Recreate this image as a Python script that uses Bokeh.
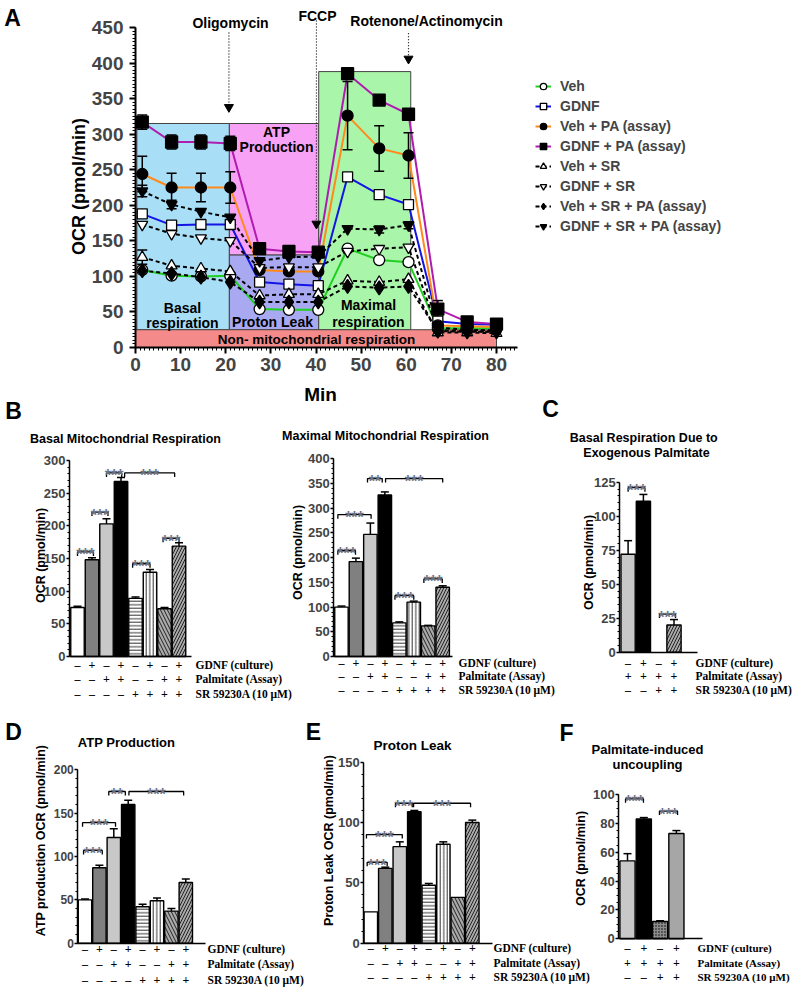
import math
from bokeh.plotting import figure
from bokeh.models import Range1d, LinearAxis, SingleIntervalTicker, FixedTicker, Legend, LegendItem
from bokeh.core.properties import value
from bokeh.embed import file_html
from bokeh.resources import INLINE

# ---------------- Panel A data (OCR time course) ----------------
times = [1.5, 8, 14.5, 21, 27.5, 34, 40.5, 47, 54, 60.5, 67, 73.5, 80]
veh        = [109, 101, 100, 101, 54, 53, 53, 139, 123, 120, 27, 27, 27]
gdnf       = [188, 172, 173, 173, 92, 89, 87, 240, 215, 201, 37, 33, 32]
veh_pa     = [244, 225, 225, 225, 109, 107, 107, 326, 280, 270, 31, 30, 29]
gdnf_pa    = [317, 289, 289, 287, 139, 135, 134, 385, 348, 328, 54, 36, 33]
veh_sr     = [127, 115, 111, 107, 73, 75, 75, 94, 92, 96, 21, 21, 20]
gdnf_sr    = [173, 160, 154, 150, 112, 113, 113, 135, 139, 141, 24, 23, 23]
veh_sr_pa  = [108, 104, 99, 92, 64, 64, 64, 86, 84, 86, 23, 22, 22]
gdnf_sr_pa = [220, 201, 191, 183, 122, 127, 128, 167, 166, 172, 28, 25, 24]

err_veh        = [4, 3, 3, 3, 0, 0, 0, 0, 0, 0, 0, 0, 0]
err_gdnf       = [0, 0, 0, 0, 0, 0, 0, 0, 0, 0, 0, 0, 0]
err_veh_pa     = [25, 20, 20, 22, 0, 0, 0, 48, 32, 32, 0, 0, 0]
err_gdnf_pa    = [10, 10, 10, 10, 0, 0, 0, 0, 0, 0, 12, 0, 0]
err_veh_sr     = [10, 0, 0, 0, 0, 0, 0, 0, 0, 0, 0, 0, 0]
err_gdnf_sr    = [0, 0, 0, 0, 0, 0, 0, 0, 0, 0, 0, 0, 0]
err_veh_sr_pa  = [0, 0, 0, 0, 0, 0, 0, 0, 0, 0, 0, 0, 0]
err_gdnf_sr_pa = [8, 6, 0, 0, 0, 0, 0, 0, 5, 5, 0, 0, 0]

series_labels = ["Veh", "GDNF", "Veh + PA (assay)", "GDNF + PA (assay)",
                 "Veh + SR", "GDNF + SR", "Veh + SR + PA (assay)", "GDNF + SR + PA (assay)"]

# respiration phases (shaded regions in panel A)
phase_start = [0.3, 20.8, 20.8, 40.6, 0.0]
phase_end   = [20.8, 40.6, 40.6, 61.0, 80.0]
phase_low   = [25, 130, 25, 25, 0]
phase_high  = [315, 315, 130, 388, 25]

# injections
inj_labels = ["Oligomycin", "FCCP", "Rotenone/Actinomycin"]
inj_time   = [20.7, 40.1, 60.5]
inj_top    = [443, 460, 442]
inj_tip    = [332, 168, 400]

# ---------------- Bar panel data ----------------
B1_vals = [75, 148, 203, 268, 89, 129, 73, 169]
B1_err  = [2, 3, 8, 6, 2, 4, 2, 5]
B2_vals = [100, 192, 247, 327, 68, 110, 62, 140]
B2_err  = [2, 7, 23, 6, 2, 2, 1, 3]
C_pos   = [1, 2, 4]
C_vals  = [72, 111, 20]
C_err   = [10, 5, 4]
D_vals  = [50, 87, 122, 160, 42, 49, 37, 70]
D_err   = [1, 3, 10, 5, 3, 3, 3, 4]
E_vals  = [26, 62, 80, 109, 48, 82, 38, 100]
E_err   = [0, 1, 4, 1, 1.5, 2, 0, 2]
F_vals  = [54, 83, 12, 73]
F_err   = [5, 1, 0.5, 2]

pos8 = [1, 2, 3, 4, 5, 6, 7, 8]
pos4 = [1, 2, 3, 4]
gdnf_row8 = ["–", "+", "–", "+", "–", "+", "–", "+"]
pa_row8   = ["–", "–", "+", "+", "–", "–", "+", "+"]
sr_row8   = ["–", "–", "–", "–", "+", "+", "+", "+"]
gdnf_row4 = ["–", "+", "–", "+"]
pa_row4   = ["+", "+", "+", "+"]
sr_row4   = ["–", "–", "+", "+"]
row_names = ["GDNF (culture)", "Palmitate (Assay)", "SR 59230A (10 μM)"]

# significance brackets: (left, right, level, label)
B1_sig = [(1.0, 2.1, 160, "***"), (2.0, 3.1, 221, "***"), (3.0, 4.05, 281, "***"),
          (4.25, 7.7, 281, "***"), (4.8, 6.0, 142, "***"), (6.9, 8.0, 181, "***")]
B2_sig = [(0.75, 1.97, 214, "***"), (0.75, 3.05, 287, "***"), (2.8, 3.82, 360, "**"),
          (4.05, 8.0, 360, "***"), (4.7, 6.0, 123, "***"), (6.7, 7.97, 157, "***")]
C_sig  = [(1.0, 2.1, 121, "***"), (3.05, 4.1, 28, "***")]
D_sig  = [(0.9, 2.2, 107, "***"), (0.83, 3.12, 139, "***"), (2.65, 3.8, 175, "**"),
          (4.05, 7.85, 175, "***")]
E_sig  = [(0.75, 2.13, 67, "***"), (0.7, 3.17, 90, "***"), (2.7, 3.86, 116, "***"),
          (3.95, 7.88, 116, "***")]
F_sig  = [(0.88, 1.98, 97, "***"), (2.96, 4.07, 88.5, "***")]

# ---------------- canvas ----------------
W, H = 800, 989
SANS = "Liberation Sans"
SERIF = "Liberation Serif"

p = figure(width=W, height=H, output_backend="svg", toolbar_location=None,
           x_axis_location=None, y_axis_location=None,
           x_range=Range1d(0, W), y_range=Range1d(H, 0),
           min_border=0, outline_line_color=None)
p.grid.visible = False
p.background_fill_color = "white"
p.border_fill_color = "white"


def add_ranges(nm, px0, sx, py0, sy):
    p.extra_x_ranges[nm] = Range1d((0 - px0) / sx, (W - px0) / sx)
    p.extra_y_ranges[nm] = Range1d((py0 - H) / sy, (py0 - 0) / sy)


def txt(x, y, s, size, xr="default", yr="default", align="center", baseline="middle",
        font=SANS, style="bold", color="black", angle=0.0, y_offset=0):
    xs = x if isinstance(x, list) else [x]
    ys = y if isinstance(y, list) else [y] * len(xs)
    ss = s if isinstance(s, list) else [s] * len(xs)
    p.text(x=xs, y=ys, text=ss, x_range_name=xr, y_range_name=yr,
           text_font=value(font), text_font_style=style, text_font_size=size,
           text_align=align, text_baseline=baseline, text_color=color,
           angle=angle, y_offset=y_offset)


def style_axis(ax, size, tick_out, standoff, lw):
    ax.axis_line_width = lw
    ax.major_tick_line_width = lw
    ax.minor_tick_line_width = 1
    ax.major_tick_in = 0
    ax.major_tick_out = tick_out
    ax.minor_tick_in = 0
    ax.minor_tick_out = max(2, tick_out // 2)
    ax.major_label_text_font = SANS
    ax.major_label_text_font_style = "bold"
    ax.major_label_text_font_size = size
    ax.major_label_standoff = standoff


# ================= Panel A =================
add_ranges("A", 135, 4.5125, 347, 320 / 450)
phase_colors = ["#a8def6", "#f7a2f5", "#a9a9f2", "#a9f5a9", "#f58a8a"]
p.quad(left=phase_start, right=phase_end, bottom=phase_low, top=phase_high,
       fill_color=phase_colors, line_color="#444444", line_width=1,
       x_range_name="A", y_range_name="A")

series_vals = [veh, gdnf, veh_pa, gdnf_pa, veh_sr, gdnf_sr, veh_sr_pa, gdnf_sr_pa]
series_err = [err_veh, err_gdnf, err_veh_pa, err_gdnf_pa, err_veh_sr, err_gdnf_sr,
              err_veh_sr_pa, err_gdnf_sr_pa]
line_colors = ["#1fd01f", "#1414e6", "#ff8a1c", "#b01cb0", "black", "black", "black", "black"]
line_dash = ["solid", "solid", "solid", "solid", "4 3", "4 3", "4 3", "4 3"]
markers = ["circle", "square", "circle", "square", "triangle", "inverted_triangle",
           "diamond", "inverted_triangle"]
fills = ["white", "white", "black", "black", "white", "white", "black", "black"]
msize = [11, 10, 11, 12, 11, 11, 14, 11]

line_r = []
for vals, c, d in zip(series_vals, line_colors, line_dash):
    line_r.append(p.line(times, vals, line_color=c, line_width=2, line_dash=d,
                         x_range_name="A", y_range_name="A"))
for vals, errs in zip(series_vals, series_err):
    ex = [t for t, e in zip(times, errs) if e > 0]
    lo = [v - e for v, e in zip(vals, errs) if e > 0]
    hi = [v + e for v, e in zip(vals, errs) if e > 0]
    if ex:
        p.segment(ex, lo, ex, hi, line_color="black", line_width=1.5,
                  x_range_name="A", y_range_name="A")
        p.scatter(ex + ex, lo + hi, marker="dash", size=10, line_color="black",
                  line_width=1.5, x_range_name="A", y_range_name="A")
mark_r = []
for vals, m, f, s in zip(series_vals, markers, fills, msize):
    mark_r.append(p.scatter(times, vals, marker=m, size=s, fill_color=f,
                            line_color="black", line_width=1.3,
                            x_range_name="A", y_range_name="A"))

# injection arrows
p.segment(inj_time, inj_top, inj_time, inj_tip, line_color="black", line_width=1.2,
          line_dash="1 2", x_range_name="A", y_range_name="A")
p.scatter(inj_time, [v + 6 for v in inj_tip], marker="inverted_triangle", size=9,
          fill_color="black", line_color="black", x_range_name="A", y_range_name="A")
txt([230, 317, 426], [22, 15, 20], inj_labels, "14px")

ya = LinearAxis(x_range_name="A", y_range_name="A", fixed_location=0, bounds=(0, 450),
                ticker=SingleIntervalTicker(interval=50, num_minor_ticks=10))
style_axis(ya, "19px", 6, 6, 2)
p.add_layout(ya, "left")
xa = LinearAxis(x_range_name="A", y_range_name="A", fixed_location=0, bounds=(0, 84.6),
                ticker=SingleIntervalTicker(interval=10, num_minor_ticks=10))
style_axis(xa, "19px", 6, 4, 2)
p.add_layout(xa, "below")

txt(320, 394, "Min", "19px")
txt(78, 186, "OCR (pmol/min)", "18px", angle=math.pi / 2)
txt(12, 17, "A", "23px")

txt([276, 276, 182, 182, 272, 368, 368],
    [131, 146, 307, 322, 321, 304, 321],
    ["ATP", "Production", "Basal", "respiration", "Proton Leak", "Maximal", "respiration"],
    "14px")
txt(316, 339, "Non- mitochondrial respiration", "13.5px")

legend = Legend(items=[LegendItem(label=lab, renderers=[lr, mr])
                       for lab, lr, mr in zip(series_labels, line_r, mark_r)],
                location=(535, 753), orientation="vertical")
legend.label_text_font = SANS
legend.label_text_font_style = "bold"
legend.label_text_font_size = "14px"
legend.glyph_width = 16
legend.glyph_height = 20
legend.label_height = 20
legend.spacing = 0
legend.padding = 0
legend.margin = 0
legend.label_standoff = 9
legend.border_line_color = None
legend.background_fill_alpha = 0
p.add_layout(legend, "center")

# ================= Bar panels =================
fill8 = ["white", "#808080", "#c8c8c8", "black", "white", "white", "#a9a9a9", "#a9a9a9"]
hatch8 = [" ", " ", " ", " ", "-", "|", "\\", "/"]
hscale8 = [6, 6, 6, 6, 3.5, 3.5, 7, 6]

panels = [
    dict(nm="B1", pos=pos8, vals=B1_vals, err=B1_err, sig=B1_sig, fill=fill8, hatch=hatch8,
         hscale=hscale8, px0=62.5, sx=14.5, py0=656, sy=196 / 300, yax=69, xend=191,
         ymax=300, tick=50, minor=5, tpos=pos8, rows=[gdnf_row8, pa_row8, sr_row8],
         row_y=[664, 678, 693], row_x=195, tsize="13px", rsize="11.5px"),
    dict(nm="B2", pos=pos8, vals=B2_vals, err=B2_err, sig=B2_sig, fill=fill8, hatch=hatch8,
         hscale=hscale8, px0=326.5, sx=14.46, py0=656, sy=197.7 / 400, yax=333.3, xend=451.7,
         ymax=400, tick=50, minor=5, tpos=pos8, rows=[gdnf_row8, pa_row8, sr_row8],
         row_y=[662, 675, 689], row_x=458, tsize="13px", rsize="11.5px"),
    dict(nm="C", pos=C_pos, vals=C_vals, err=C_err, sig=C_sig,
         fill=["#c8c8c8", "black", "#a9a9a9"], hatch=[" ", " ", "/"], hscale=[6, 6, 6],
         px0=612.3, sx=15.3, py0=651.7, sy=1.36, yax=619.3, xend=696.7,
         ymax=125, tick=25, minor=5, tpos=pos4, rows=[gdnf_row4, pa_row4, sr_row4],
         row_y=[662, 675, 689], row_x=695, tsize="13px", rsize="11.5px"),
    dict(nm="D", pos=pos8, vals=D_vals, err=D_err, sig=D_sig, fill=fill8, hatch=hatch8,
         hscale=hscale8, px0=70.1, sx=14.4, py0=942.7, sy=173.4 / 200, yax=77.3, xend=205,
         ymax=200, tick=50, minor=5, tpos=pos8, rows=[gdnf_row8, pa_row8, sr_row8],
         row_y=[948, 963, 979], row_x=207, tsize="12px", rsize="11.5px"),
    dict(nm="E", pos=pos8, vals=E_vals, err=E_err, sig=E_sig, fill=fill8, hatch=hatch8,
         hscale=hscale8, px0=355.8, sx=14.5, py0=942.7, sy=181 / 150, yax=363.3, xend=491.7,
         ymax=150, tick=50, minor=5, tpos=pos8, rows=[gdnf_row8, pa_row8, sr_row8],
         row_y=[947, 962, 976], row_x=493, tsize="13px", rsize="11.5px"),
    dict(nm="F", pos=pos4, vals=F_vals, err=F_err, sig=F_sig,
         fill=["#c8c8c8", "black", "#8c8c8c", "#a6a6a6"], hatch=[" ", " ", ".", " "],
         hscale=[6, 6, 3, 6], px0=610.7, sx=16.3, py0=938.3, sy=1.443, yax=618.3, xend=701.7,
         ymax=100, tick=20, minor=4, tpos=pos4, rows=[gdnf_row4, pa_row4, sr_row4],
         row_y=[947, 962, 976], row_x=697, tsize="13px", rsize="11px"),
]

for P in panels:
    nm = P["nm"]
    add_ranges(nm, P["px0"], P["sx"], P["py0"], P["sy"])
    p.vbar(x=P["pos"], top=P["vals"], bottom=0, width=0.93, fill_color=P["fill"],
           line_color="black", line_width=1.4, hatch_pattern=P["hatch"],
           hatch_scale=P["hscale"], hatch_color="black", hatch_weight=0.8,
           x_range_name=nm, y_range_name=nm)
    ex = [x for x, e in zip(P["pos"], P["err"]) if e > 0]
    e0 = [v for v, e in zip(P["vals"], P["err"]) if e > 0]
    e1 = [v + e for v, e in zip(P["vals"], P["err"]) if e > 0]
    p.segment(ex, e0, ex, e1, line_color="black", line_width=1.5,
              x_range_name=nm, y_range_name=nm)
    p.scatter(ex, e1, marker="dash", size=8, line_color="black", line_width=1.5,
              x_range_name=nm, y_range_name=nm)
    # brackets
    d = 4 / P["sy"]
    bx = [[a, a, b, b] for a, b, lv, lab in P["sig"]]
    by = [[lv - d, lv, lv, lv - d] for a, b, lv, lab in P["sig"]]
    p.multi_line(bx, by, line_color="black", line_width=1.3,
                 x_range_name=nm, y_range_name=nm)
    txt([(a + b) / 2 for a, b, lv, lab in P["sig"]], [lv for a, b, lv, lab in P["sig"]],
        [lab for a, b, lv, lab in P["sig"]], "16px", xr=nm, yr=nm,
        baseline="alphabetic", style="bold", color="#6c7384", y_offset=3)
    # axes
    xa0 = (P["yax"] - P["px0"]) / P["sx"]
    xa1 = (P["xend"] - P["px0"]) / P["sx"]
    yax = LinearAxis(x_range_name=nm, y_range_name=nm, fixed_location=xa0,
                     bounds=(0, P["ymax"]),
                     ticker=SingleIntervalTicker(interval=P["tick"], num_minor_ticks=P["minor"]))
    style_axis(yax, P["tsize"], 3, 1, 1.5)
    p.add_layout(yax, "left")
    xax = LinearAxis(x_range_name=nm, y_range_name=nm, fixed_location=0, bounds=(xa0, xa1),
                     ticker=FixedTicker(ticks=[]))
    style_axis(xax, "1px", 0, 0, 1.5)
    xax.major_tick_line_color = None
    xax.minor_tick_line_color = None
    p.add_layout(xax, "below")
    # condition table
    for signs, ry, rname in zip(P["rows"], P["row_y"], row_names):
        txt(P["tpos"], ry, signs, "12px", xr=nm, font=SERIF)
        txt(P["row_x"], ry, rname, P["rsize"], align="left", font=SERIF)

# titles, labels, panel letters
txt(13, 410, "B", "23px")
txt(550, 408, "C", "23px")
txt(13, 731, "D", "23px")
txt(313, 731, "E", "23px")
txt(566, 732, "F", "23px")

txt(125, 438, "Basal Mitochondrial Respiration", "12.5px")
txt(385, 435, "Maximal Mitochondrial Respiration", "12.5px")
txt(645, 437, "Basal  Respiration Due to", "12.5px")
txt(646, 452, "Exogenous Palmitate", "12.5px")
txt(126, 742, "ATP Production", "13px")
txt(412, 745, "Proton Leak", "13.5px")
txt(647, 749, "Palmitate-induced", "13px")
txt(647, 764, "uncoupling", "13px")

txt(40, 555, "OCR (pmol/min)", "12.5px", angle=math.pi / 2)
txt(297, 552, "OCR (pmol/min)", "12.5px", angle=math.pi / 2)
txt(588, 562, "OCR (pmol/min)", "12.5px", angle=math.pi / 2)
txt(40, 840, "ATP production OCR (pmol/min)", "12.5px", angle=math.pi / 2)
txt(328.5, 840, "Proton Leak OCR (pmol/min)", "12.5px", angle=math.pi / 2)
txt(580, 858, "OCR (pmol/min)", "12.5px", angle=math.pi / 2)

open("out.html", "w").write(file_html(p, INLINE))
